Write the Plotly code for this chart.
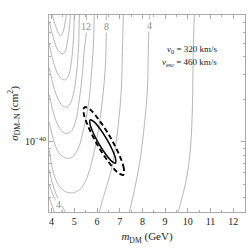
import math
import plotly.graph_objects as go

# contour curves: x in GeV, y in units of 1e-40 cm^2
u1_x = [4.03, 4.16, 4.30, 4.39, 4.47, 4.56, 4.65]
u1_y = [7.94, 6.75, 5.92, 5.63, 5.82, 6.53, 7.94]
u2_x = [3.90, 4.08, 4.25, 4.47, 4.61, 4.69, 4.78, 4.83]
u2_y = [7.08, 5.45, 4.55, 4.20, 4.41, 5.11, 6.42, 7.94]
u3_x = [3.90, 4.08, 4.30, 4.56, 4.74, 4.87, 4.96, 5.00]
u3_y = [4.94, 3.68, 2.98, 2.74, 2.93, 3.68, 5.28, 7.94]
u4_x = [3.90, 4.08, 4.30, 4.56, 4.78, 4.96, 5.09, 5.18, 5.22]
u4_y = [3.34, 2.49, 1.98, 1.76, 1.82, 2.18, 2.98, 4.48, 7.94]
u5_x = [3.90, 4.08, 4.30, 4.56, 4.83, 5.05, 5.22, 5.35, 5.44, 5.53, 5.53]
u5_y = [2.15, 1.60, 1.29, 1.15, 1.17, 1.38, 1.98, 2.98, 4.48, 5.92, 7.94]
u6_x = [3.90, 4.08, 4.30, 4.61, 4.91, 5.18, 5.40, 5.62, 5.75, 5.84, 5.88]
u6_y = [1.38, 1.03, 0.844, 0.765, 0.778, 0.901, 1.21, 1.82, 2.98, 4.86, 7.94]
u7_x = [3.90, 4.03, 4.25, 4.56, 4.91, 5.27, 5.57, 5.84, 6.06, 6.24, 6.37, 6.41, 6.41]
u7_y = [0.872, 0.650, 0.508, 0.446, 0.432, 0.461, 0.561, 0.804, 1.21, 1.98, 3.50, 5.92, 7.94]
u8l_x = [3.90, 4.03, 4.21, 4.43, 4.61]
u8l_y = [0.629, 0.508, 0.418, 0.355, 0.316]
u8r_x = [7.16, 7.12, 7.07, 6.94, 6.68, 6.19, 6.10]
u8r_y = [7.94, 4.48, 2.33, 1.33, 0.682, 0.360, 0.316]
u9l_x = [3.90, 4.08, 4.30, 4.47]
u9l_y = [0.492, 0.411, 0.355, 0.316]
u9r_x = [8.31, 8.26, 8.22, 8.09, 7.86, 7.51, 7.42]
u9r_y = [7.94, 4.48, 2.33, 1.33, 0.682, 0.360, 0.316]
u10l_x = [3.90, 4.12]
u10l_y = [0.398, 0.316]
u10r_x = [10.29, 10.24, 10.20, 10.11, 9.93, 9.67, 9.58]
u10r_y = [7.94, 4.48, 1.68, 0.872, 0.534, 0.360, 0.316]

# confidence regions
solid_x = [6.812, 6.821, 6.684, 6.429, 6.129, 5.860, 5.702, 5.689, 5.830, 6.085, 6.385, 6.653, 6.812]
solid_y = [0.704, 0.752, 0.868, 1.041, 1.236, 1.386, 1.427, 1.337, 1.158, 0.965, 0.813, 0.725, 0.704]
dash_x = [7.156, 7.182, 6.975, 6.587, 6.120, 5.706, 5.446, 5.420, 5.627, 6.015, 6.481, 6.900, 7.156]
dash_y = [0.581, 0.645, 0.808, 1.074, 1.404, 1.684, 1.757, 1.582, 1.265, 0.951, 0.727, 0.606, 0.581]

# contour level labels: text, x (GeV), y (1e-40 cm^2)
label_text = ["12", "8", "4", "4"]
label_x = [5.53, 6.41, 8.31, 4.30]
label_y = [6.53, 6.53, 6.64, 0.355]

x_ticks = [4, 5, 6, 7, 8, 9, 10, 11, 12]
x_minor = [4.5, 5.5, 6.5, 7.5, 8.5, 9.5, 10.5, 11.5, 12.5]
y_ticks = [1e-40]
y_ticktext = ["10<sup>\u221240</sup>"]
y_minor = [4e-41, 5e-41, 6e-41, 7e-41, 8e-41, 9e-41, 2e-40, 3e-40, 4e-40, 5e-40, 6e-40, 7e-40]

unit = 1e-40
gray = "#a4a4a4"
fig = go.Figure()
curves = [(u1_x, u1_y), (u2_x, u2_y), (u3_x, u3_y), (u4_x, u4_y), (u5_x, u5_y),
          (u6_x, u6_y), (u7_x, u7_y), (u8l_x, u8l_y), (u8r_x, u8r_y),
          (u9l_x, u9l_y), (u9r_x, u9r_y), (u10l_x, u10l_y), (u10r_x, u10r_y)]
for cx, cy in curves:
    fig.add_trace(go.Scatter(x=cx, y=[v * unit for v in cy], mode="lines",
                             line=dict(color=gray, width=0.8, shape="spline"),
                             showlegend=False, hoverinfo="skip"))

fig.add_trace(go.Scatter(x=solid_x, y=[v * unit for v in solid_y], mode="lines",
                         line=dict(color="black", width=1.5, shape="spline"),
                         showlegend=False))
fig.add_trace(go.Scatter(x=dash_x, y=[v * unit for v in dash_y], mode="lines",
                         line=dict(color="black", width=1.9, shape="spline", dash="5px,3px"),
                         showlegend=False))

serif = "Liberation Serif"
for t, lx, ly in zip(label_text, label_x, label_y):
    fig.add_annotation(x=lx, y=math.log10(ly * unit), text=t, showarrow=False,
                       font=dict(family=serif, size=10, color="#8a8a8a"),
                       bgcolor="white", borderpad=0)

fig.add_annotation(xref="paper", yref="paper", x=0.867, y=0.863, xanchor="right",
                   text="<i>v</i><sub>0</sub> = 320 km/s", showarrow=False,
                   font=dict(family=serif, size=9, color="#222"))
fig.add_annotation(xref="paper", yref="paper", x=0.867, y=0.797, xanchor="right",
                   text="<i>v</i><sub>esc</sub> = 460 km/s", showarrow=False,
                   font=dict(family=serif, size=9, color="#222"))

axis_common = dict(showline=True, linecolor="#aaaaaa", linewidth=1, mirror="ticks",
                   ticks="inside", ticklen=4, tickcolor="#aaaaaa", showgrid=False,
                   zeroline=False, tickfont=dict(family=serif, size=10, color="#222"))
fig.update_xaxes(range=[3.885, 12.52], tickmode="array", tickvals=x_ticks,
                 minor=dict(tickmode="array", tickvals=x_minor, ticks="inside", ticklen=2,
                            tickcolor="#aaaaaa"),
                 title=dict(text="<i>m</i><sub>DM</sub> (GeV)", standoff=6,
                            font=dict(family=serif, size=11, color="#222")),
                 **axis_common)
fig.update_yaxes(type="log", range=[-40.5, -39.1], tickmode="array", tickvals=y_ticks,
                 ticktext=y_ticktext,
                 minor=dict(tickmode="array", tickvals=y_minor, ticks="inside", ticklen=2,
                            tickcolor="#aaaaaa"),
                 title=dict(text="<i>\u03c3</i><sub>DM\u2013N</sub> (cm<sup>2</sup>)", standoff=4,
                            font=dict(family=serif, size=11, color="#222")),
                 **axis_common)
fig.update_layout(width=249, height=248, margin=dict(l=49, r=4, t=15, b=36),
                  paper_bgcolor="white", plot_bgcolor="white", showlegend=False)
fig.write_html("out.html", config={"displayModeBar": False},
               post_script="document.body.style.margin='0';")
